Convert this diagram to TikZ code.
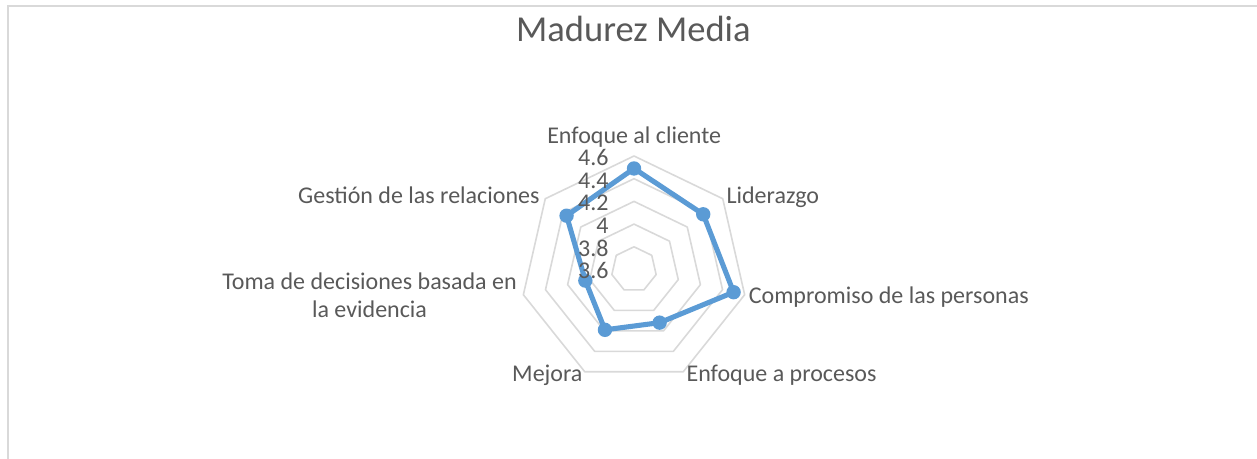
\documentclass[tikz,border=0pt]{standalone}
\usepackage{fontspec}
\setmainfont{Carlito}
\usetikzlibrary{calc}
\definecolor{txt}{HTML}{595959}
\definecolor{gridc}{HTML}{D9D9D9}
\definecolor{ser}{HTML}{5B9BD5}
\begin{document}
\begin{tikzpicture}[x=0.375pt,y=0.375pt,
  frameline/.style={draw=gridc,line width=0.75pt},
  gridline/.style={draw=gridc,line width=0.6pt,line join=round},
  series/.style={draw=ser,line width=1.9pt,line join=round},
  datadot/.style={circle,fill=ser,draw=none,minimum size=5.4pt,inner sep=0pt},
  cat/.style={text=txt,inner sep=0pt,font=\fontsize{9}{10.6}\selectfont},
  ticklbl/.style={text=txt,inner sep=0pt,anchor=base east,font=\fontsize{9}{10.6}\selectfont},
  ttl/.style={text=txt,inner sep=0pt,anchor=base,font=\fontsize{13.7}{16}\selectfont}]
\useasboundingbox (0,0) rectangle (1257,459);
\coordinate (f1) at (8,0);
\coordinate (f2) at (8,452.5);
\coordinate (f3) at (1257,452.5);
\draw[frameline] (f1) -- (f2) -- (f3);
\node[ttl] (title) at (633.4,417.3) {Madurez Media};
\begin{scope}[shift={(634,189.5)}]
  \foreach \k in {1,...,5}{
    \draw[gridline] (90:\k*22.7) \foreach \i in {1,...,6}{ -- ({90-\i*360/7}:\k*22.7)} -- cycle;
  }
  \foreach \v [count=\i] in {4.49,4.38,4.50,4.12,4.19,4.04,4.36}{
    \coordinate (c\i) at ({90-(\i-1)*360/7}:{(\v-3.6)*113.5});
  }
  \draw[series] (c1) -- (c2) -- (c3) -- (c4) -- (c5) -- (c6) -- (c7) -- cycle;
  \foreach \i in {1,...,7}{
    \node[datadot] (p\i) at (c\i) {};
  }
\end{scope}
\foreach \t [count=\k from 0] in {3.6,3.8,4,4.2,4.4,4.6}{
  \node[ticklbl] (t\k) at (609,{189.5+\k*22.7-9.5}) {\t};
}
\node[cat,anchor=base] (l1) at (634.2,315) {Enfoque al cliente};
\node[cat,anchor=base west] (l2) at (726,255) {Liderazgo};
\node[cat,anchor=base west] (l3) at (748.3,155.5) {Compromiso de las personas};
\node[cat,anchor=base west] (l4) at (686,77) {Enfoque a procesos};
\node[cat,anchor=base east] (l5) at (583,77) {Mejora};
\node[cat,anchor=base east,align=center] (l6) at (517.3,141.7) {Toma de decisiones basada en\\la evidencia};
\node[cat,anchor=base east] (l7) at (540,255) {Gestión de las relaciones};
\end{tikzpicture}
\end{document}
